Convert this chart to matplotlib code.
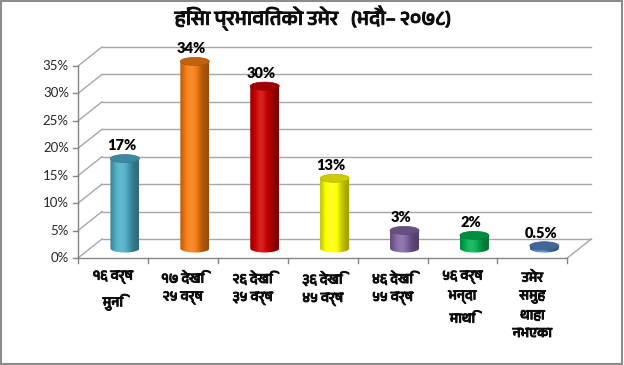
import numpy as np
import matplotlib
matplotlib.use("Agg")
import matplotlib.pyplot as plt
import matplotlib.patheffects as pe
from matplotlib import font_manager
from matplotlib.ft2font import FT2Font
from matplotlib.patches import Polygon, Ellipse, Rectangle
from matplotlib.colors import to_rgb

# Data
categories = ["१६ वर्ष\nमुनि", "१७ देखि\n२५ वर्ष", "२६ देखि\n३५ वर्ष", "३६ देखि\n४५ वर्ष",
              "४६ देखि\n५५ वर्ष", "५६ वर्ष\nभन्दा\nमाथि", "उमेर\nसमुह\nथाहा\nनभएका"]
values = [16.4, 34.1, 29.6, 12.8, 3.3, 2.4, 0.5]
value_labels = ["17%", "34%", "30%", "13%", "3%", "2%", "0.5%"]
bar_colors = ["#4BACC6", "#F47A10", "#CC0000", "#FFFF00", "#8064A2", "#00B050", "#4F81BD"]
y_ticks = [0, 5, 10, 15, 20, 25, 30, 35]
title = "हिंसा प्रभावितको उमेर   (भदौ– २०७८)"


def find_font(char):
    """Return the name of an installed font that has the given glyph,
    preferring a dedicated Devanagari family."""
    found = []
    for f in font_manager.fontManager.ttflist:
        try:
            if ord(char) in FT2Font(f.fname).get_charmap():
                found.append(f.name)
        except Exception:
            pass
    if not found:
        return None
    found.sort(key=lambda s: (0 if "Devanagari" in s else 1, s))
    return found[0]


deva = find_font("ह")
deva_family = [deva, "DejaVu Sans"] if deva else ["DejaVu Sans"]
latin = "Lato"
heavy = [pe.withStroke(linewidth=0.7, foreground="#0D0D0D")]

# Layout (pixel frame of the 624x365 reference)
W, H = 624, 365
X0, CAT_W = 78, 69.9         # left edge of front plane, width of one category
Y0, PX_PER = 258, 5.486      # front 0% line, pixels per percent
DX = 24 / CAT_W              # depth offset in category units
DY = 19 / PX_PER             # depth offset in percent units
BAR_W = 29 / CAT_W
ELL_H = 8 / PX_PER

fig = plt.figure(figsize=(W / 100, H / 100), dpi=100)
ax = fig.add_axes([0, 0, 1, 1])
ax.set_xlim(-0.5 - X0 / CAT_W, -0.5 + (W - X0) / CAT_W)
ax.set_ylim((Y0 - H) / PX_PER, Y0 / PX_PER)
ax.axis("off")

n = len(values)
left, right = -0.5, n - 0.5
grid_c = "#A6A6A6"
axis_c = "#868686"

# back wall grid and side wall diagonals
for t in y_ticks:
    ax.plot([left + DX, right + DX], [t + DY, t + DY], color=grid_c, lw=1.0, zorder=1)
    ax.plot([left, left + DX], [t, t + DY], color=grid_c, lw=1.0, zorder=1)
    ax.plot([left - 0.07, left], [t, t], color=axis_c, lw=1.0, zorder=1)
    ax.text(left - 0.13, t, f"{t}%", ha="right", va="center", fontsize=9.5,
            family=latin, color="#262626")

# floor right edge, front floor line, vertical axis
ax.plot([right, right + DX], [0, DY], color=grid_c, lw=1.0, zorder=1)
ax.plot([left, right], [0, 0], color=axis_c, lw=1.0, zorder=5)
ax.plot([left, left], [0, y_ticks[-1]], color=axis_c, lw=1.0, zorder=5)
for k in range(n + 1):
    ax.plot([left + k, left + k], [0, -0.9], color=axis_c, lw=1.0, zorder=5)

# shading profile across a cylinder
prof_t = np.linspace(0, 1, 64)
prof = 0.62 + 0.55 * np.exp(-((prof_t - 0.38) / 0.32) ** 2)


def shaded(color):
    base = np.array(to_rgb(color))
    rows = []
    for m in prof:
        c = base * min(m, 1) + (1 - base) * max(m - 1, 0) * 0.8
        rows.append(np.clip(c, 0, 1))
    return np.array([rows])


# cylinders
theta = np.linspace(0, np.pi, 40)
for i, (v, col, lab) in enumerate(zip(values, bar_colors, value_labels)):
    cx = i + DX / 2
    base_y = DY / 2
    top_y = base_y + v
    xl, xr = cx - BAR_W / 2, cx + BAR_W / 2
    arc_x = cx - BAR_W / 2 * np.cos(theta)
    arc_y = base_y - ELL_H / 2 * np.sin(theta)
    verts = [(xl, top_y), (xl, base_y)] + list(zip(arc_x, arc_y)) + [(xr, base_y), (xr, top_y)]
    body = Polygon(verts, closed=True, facecolor="none", edgecolor="none")
    ax.add_patch(body)
    img = ax.imshow(shaded(col), extent=[xl, xr, base_y - ELL_H, top_y], aspect="auto",
                    interpolation="bilinear", zorder=3)
    img.set_clip_path(body)
    top_c = np.array(to_rgb(col)) * 0.8
    ax.add_patch(Ellipse((cx, top_y), BAR_W, ELL_H, facecolor=top_c,
                         edgecolor=np.array(to_rgb(col)) * 0.7, lw=0.5, zorder=4))
    ax.text(cx - 0.05, top_y + ELL_H / 2 + 0.4, lab, ha="center", va="bottom",
            fontsize=10.5, fontweight="heavy", family=latin, color="#000000", zorder=6)

# category labels
for i, lab in enumerate(categories):
    ax.text(i, -2.3, lab, ha="center", va="top", fontsize=10, fontweight="bold",
            family=deva_family, linespacing=1.75, color="#0D0D0D", path_effects=heavy)

fig.text(313 / W, 1 - 18 / H, title, ha="center", va="center", fontsize=14.5,
         fontweight="bold", family=deva_family, color="#0D0D0D", path_effects=heavy)

# outer border
fig.patches.append(Rectangle((0.002, 0.003), 0.995, 0.994, transform=fig.transFigure,
                             fill=False, edgecolor="#8C8C8C", lw=1.5))

fig.savefig("out.png", dpi=100)
